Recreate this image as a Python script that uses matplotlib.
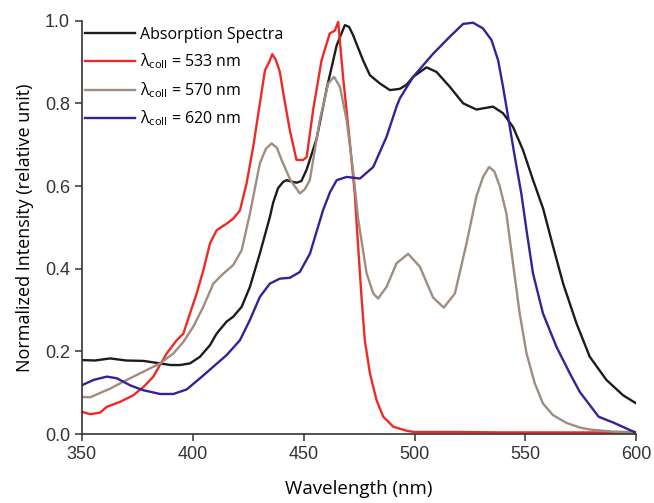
import matplotlib
matplotlib.use("Agg")
import matplotlib.pyplot as plt

# Absorption spectrum (black)
abs_wl = [350, 356, 362.8, 370, 377.8, 385.3, 390, 394.3, 398.8, 403.3, 407.8, 410.8, 415.3,
          418.3, 422.1, 425.8, 430.3, 434.8, 436.3, 438.5, 440.8, 442.3, 446.8, 449, 451.4,
          455.9, 460.4, 464.9, 468.6, 470.5, 472.3, 476.8, 479.9, 484.4, 488.9, 493.4, 496.4,
          499.4, 505.4, 509.9, 515.9, 521.9, 527.9, 535.4, 539.9, 544.4, 548.9, 553.4, 558.0,
          562.5, 567.0, 573.0, 579.0, 586.5, 594.0, 600]
abs_val = [0.179, 0.178, 0.183, 0.178, 0.177, 0.171, 0.167, 0.167, 0.171, 0.187, 0.215, 0.243,
           0.272, 0.284, 0.308, 0.356, 0.437, 0.525, 0.560, 0.595, 0.610, 0.614, 0.608, 0.612,
           0.640, 0.715, 0.835, 0.940, 0.989, 0.985, 0.965, 0.904, 0.868, 0.848, 0.832, 0.835,
           0.845, 0.864, 0.887, 0.876, 0.840, 0.800, 0.785, 0.792, 0.776, 0.743, 0.687, 0.615,
           0.545, 0.453, 0.364, 0.268, 0.187, 0.131, 0.094, 0.074]

# lambda_coll = 533 nm (red)
r533_wl = [350, 353.8, 358.3, 361.3, 367.3, 373.3, 377.8, 382.3, 385, 388.3, 392.8, 395.8,
           398.8, 401.8, 404.8, 407.8, 410.8, 415.3, 418.3, 421.3, 424.3, 427.3, 430.3, 432.6,
           434.5, 435.9, 437.5, 439.3, 441, 443.8, 446.8, 449.8, 451.4, 454.3, 458.1, 461.8,
           464.1, 465.6, 467.8, 470.9, 473.1, 474.6, 476.1, 477.6, 479.9, 482.9, 485.9, 490.4,
           496.4, 500, 520, 540, 560, 580, 600]
r533_val = [0.054, 0.048, 0.052, 0.066, 0.078, 0.094, 0.114, 0.139, 0.165, 0.195, 0.227, 0.243,
            0.292, 0.340, 0.396, 0.461, 0.493, 0.509, 0.521, 0.541, 0.606, 0.695, 0.800, 0.880,
            0.900, 0.919, 0.905, 0.876, 0.820, 0.735, 0.663, 0.663, 0.670, 0.784, 0.904, 0.969,
            0.976, 0.997, 0.864, 0.703, 0.580, 0.453, 0.332, 0.227, 0.147, 0.082, 0.042, 0.018,
            0.008, 0.005, 0.005, 0.004, 0.004, 0.004, 0.004]

# lambda_coll = 570 nm (grey-brown)
r570_wl = [350, 353.8, 362.8, 370.3, 377.8, 385.3, 391.3, 395.8, 400.3, 404.8, 409.3, 413.8,
           418.3, 422.1, 425.8, 430.3, 433, 435.6, 438, 440.1, 444, 448.3, 450.5, 452.8, 457.3,
           461.1, 463.7, 466.4, 469.4, 472.3, 474.6, 478.4, 481.4, 483.6, 487.4, 491.9, 497.1,
           502.4, 508.4, 513.2, 518.2, 523.4, 527.9, 530.9, 533.6, 536, 538.4, 541.4, 544.4,
           547.4, 550.5, 554.2, 557.9, 562.4, 568.5, 574.5, 579, 589.5, 600]
r570_val = [0.090, 0.089, 0.110, 0.131, 0.151, 0.171, 0.195, 0.223, 0.260, 0.308, 0.364, 0.388,
            0.409, 0.445, 0.533, 0.655, 0.690, 0.703, 0.692, 0.663, 0.615, 0.582, 0.592, 0.614,
            0.759, 0.848, 0.864, 0.840, 0.759, 0.638, 0.520, 0.389, 0.340, 0.328, 0.356, 0.413,
            0.436, 0.405, 0.330, 0.306, 0.340, 0.460, 0.575, 0.622, 0.646, 0.635, 0.600, 0.534,
            0.413, 0.292, 0.195, 0.123, 0.074, 0.046, 0.027, 0.016, 0.011, 0.006, 0.005]

# lambda_coll = 620 nm (indigo)
r620_wl = [350, 355.3, 361.3, 365.8, 371.8, 377.8, 385.3, 391.3, 397.3, 403.3, 409.3, 415.3,
           421.3, 425.8, 430.3, 434.8, 439.3, 443.8, 448.3, 452.9, 458.8, 461.9, 464.9, 469.4,
           475.4, 481.4, 487.4, 491.9, 493.4, 499.4, 508.4, 515.9, 521.9, 526.4, 530.9, 534.7,
           537.7, 539.9, 542.2, 545.2, 548.2, 550.5, 553.4, 557.9, 564, 570, 574.5, 583, 590,
           597, 600]
r620_val = [0.118, 0.131, 0.139, 0.135, 0.118, 0.106, 0.097, 0.097, 0.108, 0.135, 0.163, 0.191,
            0.227, 0.276, 0.332, 0.364, 0.376, 0.378, 0.392, 0.437, 0.542, 0.585, 0.614, 0.622,
            0.618, 0.646, 0.719, 0.792, 0.812, 0.864, 0.920, 0.961, 0.992, 0.995, 0.981, 0.953,
            0.904, 0.840, 0.767, 0.671, 0.580, 0.493, 0.389, 0.292, 0.211, 0.147, 0.102, 0.042,
            0.027, 0.010, 0.003]

x_ticks = [350, 400, 450, 500, 550, 600]
y_ticks = [0.0, 0.2, 0.4, 0.6, 0.8, 1.0]

plt.rcParams['font.family'] = ['Open Sans', 'DejaVu Sans']
plt.rcParams['mathtext.fontset'] = 'custom'
plt.rcParams['mathtext.rm'] = 'Open Sans'
plt.rcParams['mathtext.it'] = 'Open Sans'

fig = plt.figure(figsize=(6.54, 5.03), dpi=100)
ax = fig.add_axes([0.125, 0.137, 0.848, 0.822])

ax.plot(abs_wl, abs_val, color='#1c1c1c', lw=1.7, label='Absorption Spectra')
ax.plot(r533_wl, r533_val, color='#ee2a24', lw=1.7, label=r'$\lambda_{\rm coll}$ = 533 nm')
ax.plot(r570_wl, r570_val, color='#a08c80', lw=1.7, label=r'$\lambda_{\rm coll}$ = 570 nm')
ax.plot(r620_wl, r620_val, color='#3b1f96', lw=1.7, label=r'$\lambda_{\rm coll}$ = 620 nm')

ax.set_xlim(350, 600)
ax.set_ylim(0, 1.0)
ax.set_xticks(x_ticks)
ax.set_yticks(y_ticks)
ax.set_yticklabels([f'{v:.1f}' for v in y_ticks])
for side in ['top', 'right']:
    ax.spines[side].set_visible(False)
for side in ['left', 'bottom']:
    ax.spines[side].set_color('#333333')
    ax.spines[side].set_linewidth(1.2)
ax.tick_params(direction='out', length=5, width=1.1, labelsize=13, colors='#333333')
for lbl in ax.get_xticklabels() + ax.get_yticklabels():
    lbl.set_family('Liberation Sans')

ax.set_xlabel('Wavelength (nm)', fontsize=13.5, labelpad=12)
ax.set_ylabel('Normalized Intensity (relative unit)', fontsize=13, labelpad=8)

ax.legend(loc='upper left', bbox_to_anchor=(0.006, 0.985), frameon=False, fontsize=11.5,
          handlelength=3.1, handletextpad=0.35, labelspacing=0.55, borderaxespad=0,
          borderpad=0)

fig.savefig('out.png', dpi=100)
